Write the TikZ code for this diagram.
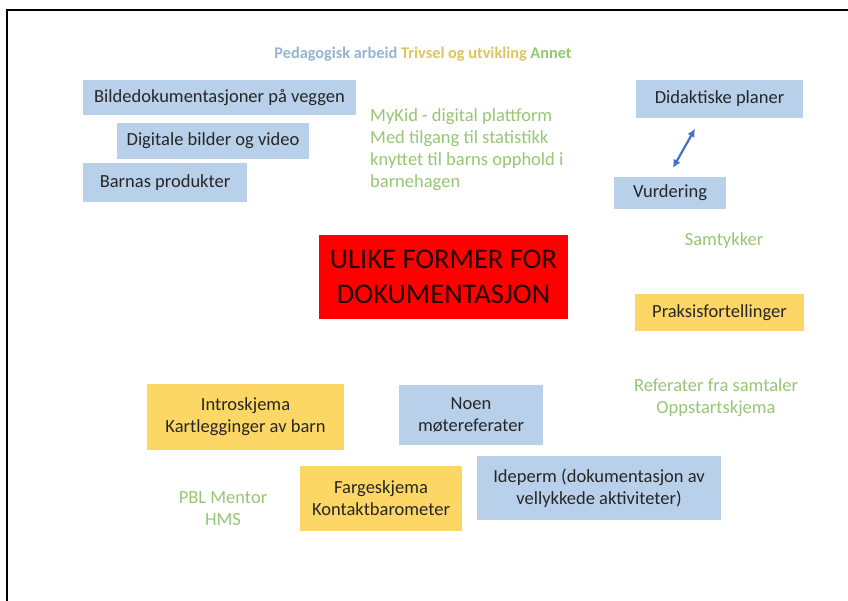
\documentclass[tikz,border=0pt]{standalone}
\usepackage{fontspec}
\setmainfont{Carlito}
\usepackage{tikz}
\usetikzlibrary{arrows.meta}
\definecolor{boxblue}{RGB}{184,208,234}
\definecolor{boxyellow}{RGB}{253,215,102}
\definecolor{textgreen}{RGB}{150,198,115}
\definecolor{titleblue}{RGB}{150,180,210}
\definecolor{titleyellow}{RGB}{222,196,92}
\definecolor{arrowblue}{RGB}{68,114,196}
\tikzstyle{bluebox} = [fill=boxblue,inner sep=0pt,align=center,font=\fontsize{18.5}{22}\selectfont,text=black!85]
\tikzstyle{yellowbox} = [fill=boxyellow,inner sep=0pt,align=center,font=\fontsize{18.5}{22}\selectfont,text=black!85]
\tikzstyle{greentext} = [inner sep=0pt,align=center,font=\fontsize{18.5}{22}\selectfont,text=textgreen]

\begin{document}
\begin{tikzpicture}[x=1pt,y=-1pt]
		\useasboundingbox (0,0) rectangle (848,601);
		\draw[line width=1.8pt] (7,601)--(7,10)--(848,10);
		
		\node [inner sep=0pt,font=\fontsize{16.3}{19}\selectfont\bfseries](title) at (423,54){\color{titleblue}{Pedagogisk arbeid} \color{titleyellow}{Trivsel og utvikling} \color{textgreen}{Annet}};
		
		\node [bluebox,minimum width=273pt,minimum height=35pt](veggen) at (219.5,97.5){Bildedokumentasjoner på veggen};
		\node [bluebox,minimum width=192pt,minimum height=36pt](video) at (213,141){Digitale bilder og video};
		\node [bluebox,minimum width=164pt,minimum height=39pt](produkter) at (165,182.5){Barnas produkter};
		\node [greentext,align=left,anchor=north west](mykid) at (370,108){MyKid - digital plattform\\Med tilgang til statistikk\\knyttet til barns opphold i\\barnehagen};
		
		\node [bluebox,minimum width=167pt,minimum height=38pt](planer) at (719.5,99){Didaktiske planer};
		\node [bluebox,minimum width=112pt,minimum height=32pt](vurdering) at (670,193){Vurdering};
		\draw[{Latex[length=8pt,width=8pt]}-{Latex[length=8pt,width=8pt]},arrowblue,line width=2.2pt](vurdering.north)++(3,-9) coordinate(va)--++(22,-39) coordinate(pa);
		
		\node [fill=red,inner sep=0pt,align=center,minimum width=249pt,minimum height=84pt,font=\fontsize{28.5}{35}\selectfont,text=black!85!red](ulike) at (443.5,277){ULIKE FORMER FOR\\DOKUMENTASJON};
		
		\node [greentext](samtykker) at (724,241){Samtykker};
		\node [yellowbox,minimum width=169pt,minimum height=37pt](praksis) at (719.5,312.5){Praksisfortellinger};
		\node [greentext](referater) at (716,398){Referater fra samtaler\\Oppstartskjema};
		
		\node [yellowbox,minimum width=197pt,minimum height=66pt](intro) at (245.5,417){Introskjema\\Kartlegginger av barn};
		\node [bluebox,minimum width=144pt,minimum height=60pt](noen) at (471,415){Noen\\møtereferater};
		\node [yellowbox,minimum width=162pt,minimum height=65pt](farge) at (381,498.5){Fargeskjema\\Kontaktbarometer};
		\node [bluebox,minimum width=244pt,minimum height=64pt](ideperm) at (599,488){Ideperm (dokumentasjon av\\vellykkede aktiviteter)};
		\node [greentext](pbl) at (223,509){PBL Mentor\\HMS};
		\end{tikzpicture}
\end{document}
